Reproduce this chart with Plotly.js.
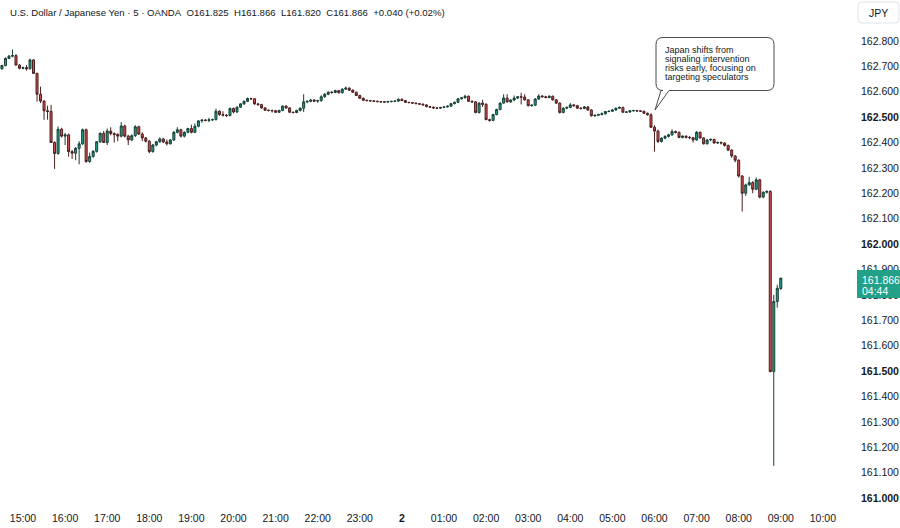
<!DOCTYPE html>
<html>
<head>
<meta charset="utf-8">
<script src="https://cdn.plot.ly/plotly-3.0.1.min.js"></script>
<style>html,body{margin:0;padding:0;background:#fff;}#chart{width:900px;height:528px;}</style>
</head>
<body>
<div id="chart"></div>
<script>
// ---- data (USD/JPY, 5-minute candles, OANDA) ----
const startTime = '2024-07-01T14:30:00Z';
const stepMinutes = 5;

const opens = [162.690,162.703,162.731,162.740,162.742,162.705,162.692,162.695,162.690,162.725,
162.672,162.590,162.563,162.525,162.522,162.400,162.357,162.452,162.425,162.430,
162.364,162.358,162.377,162.395,162.450,162.325,162.345,162.365,162.403,162.436,
162.400,162.445,162.435,162.432,162.425,162.465,162.425,162.410,162.427,162.462,
162.433,162.418,162.405,162.364,162.390,162.403,162.414,162.402,162.395,162.410,
162.440,162.450,162.425,162.440,162.455,162.440,162.464,162.485,162.488,162.487,
162.489,162.490,162.523,162.510,162.507,162.506,162.534,162.520,162.539,162.552,
162.562,162.573,162.572,162.552,162.549,162.536,162.527,162.526,162.525,162.519,
162.526,162.543,162.536,162.519,162.518,162.526,162.535,162.560,162.562,162.567,
162.563,162.565,162.580,162.590,162.598,162.597,162.604,162.596,162.610,162.614,
162.606,162.598,162.585,162.574,162.566,162.565,162.564,162.562,162.561,162.560,
162.559,162.561,162.562,162.563,162.570,162.565,162.558,162.557,162.555,162.553,
162.551,162.548,162.541,162.539,162.536,162.535,162.538,162.540,162.543,162.553,
162.558,162.572,162.576,162.582,162.562,162.560,162.518,162.555,162.550,162.490,
162.487,162.510,162.530,162.555,162.575,162.560,162.567,162.575,162.580,162.579,
162.568,162.545,162.547,162.571,162.583,162.580,162.577,162.582,162.568,162.555,
162.518,162.535,162.538,162.548,162.545,162.535,162.534,162.540,162.528,162.505,
162.507,162.510,162.513,162.522,162.523,162.528,162.535,162.538,162.519,162.520,
162.525,162.526,162.524,162.523,162.515,162.509,162.460,162.445,162.404,162.417,
162.424,162.430,162.443,162.440,162.420,162.425,162.420,162.419,162.410,162.440,
162.418,162.395,162.410,162.412,162.398,162.400,162.398,162.388,162.370,162.347,
162.330,162.268,162.200,162.233,162.242,162.216,162.253,162.185,162.204,162.207,
161.498,161.774,161.825];

const highs = [162.706,162.735,162.745,162.766,162.748,162.708,162.699,162.705,162.730,162.728,
162.675,162.620,162.566,162.545,162.548,162.405,162.463,162.458,162.438,162.435,
162.370,162.382,162.405,162.455,162.455,162.360,162.370,162.405,162.440,162.445,
162.455,162.460,162.440,162.436,162.480,162.470,162.430,162.432,162.468,162.466,
162.440,162.422,162.410,162.394,162.406,162.420,162.418,162.412,162.413,162.445,
162.460,162.454,162.444,162.458,162.470,162.475,162.488,162.492,162.492,162.497,
162.494,162.533,162.527,162.523,162.512,162.538,162.538,162.542,162.555,162.565,
162.577,162.577,162.575,162.556,162.552,162.539,162.530,162.530,162.528,162.529,
162.546,162.547,162.539,162.522,162.529,162.538,162.590,162.566,162.572,162.571,
162.568,162.586,162.594,162.601,162.602,162.608,162.607,162.613,162.620,162.617,
162.609,162.600,162.588,162.577,162.569,162.567,162.566,162.565,162.563,162.563,
162.564,162.564,162.566,162.573,162.573,162.567,162.560,162.559,162.557,162.555,
162.553,162.550,162.543,162.541,162.538,162.540,162.542,162.545,162.556,162.561,
162.575,162.579,162.588,162.585,162.566,162.563,162.558,162.568,162.555,162.494,
162.513,162.533,162.558,162.590,162.590,162.570,162.585,162.583,162.596,162.590,
162.571,162.550,162.574,162.590,162.587,162.584,162.586,162.585,162.571,162.558,
162.538,162.542,162.555,162.552,162.548,162.538,162.543,162.543,162.531,162.510,
162.513,162.518,162.524,162.526,162.531,162.537,162.542,162.541,162.522,162.528,
162.528,162.528,162.527,162.525,162.518,162.515,162.468,162.450,162.420,162.428,
162.434,162.452,162.447,162.443,162.428,162.428,162.426,162.422,162.445,162.443,
162.421,162.413,162.416,162.415,162.404,162.404,162.401,162.392,162.373,162.350,
162.334,162.272,162.238,162.265,162.248,162.262,162.257,162.208,162.212,162.212,
161.800,161.840,161.866];

const lows = [162.686,162.700,162.728,162.735,162.703,162.688,162.688,162.683,162.688,162.670,
162.561,162.555,162.489,162.490,162.398,162.296,162.352,162.420,162.390,162.344,
162.335,162.330,162.314,162.390,162.320,162.320,162.340,162.360,162.398,162.398,
162.390,162.428,162.400,162.405,162.420,162.420,162.390,162.405,162.422,162.430,
162.405,162.400,162.358,162.360,162.385,162.398,162.398,162.388,162.392,162.406,
162.436,162.420,162.420,162.436,162.436,162.437,162.460,162.478,162.483,162.480,
162.485,162.487,162.505,162.503,162.500,162.503,162.515,162.517,162.536,162.548,
162.559,162.568,162.549,162.545,162.533,162.524,162.522,162.518,162.516,162.516,
162.523,162.533,162.516,162.514,162.515,162.522,162.520,162.555,162.558,162.559,
162.556,162.560,162.576,162.586,162.592,162.594,162.593,162.593,162.607,162.603,
162.596,162.583,162.571,162.563,162.562,162.561,162.560,162.558,162.557,162.557,
162.557,162.558,162.559,162.560,162.563,162.556,162.555,162.553,162.551,162.549,
162.546,162.539,162.537,162.534,162.533,162.533,162.536,162.538,162.540,162.550,
162.555,162.569,162.573,162.560,162.556,162.515,162.514,162.540,162.488,162.482,
162.484,162.507,162.527,162.552,162.557,162.556,162.563,162.571,162.550,162.565,
162.542,162.541,162.544,162.568,162.577,162.574,162.574,162.565,162.552,162.514,
162.515,162.531,162.535,162.541,162.532,162.530,162.531,162.525,162.502,162.501,
162.504,162.507,162.510,162.519,162.520,162.525,162.532,162.517,162.516,162.517,
162.521,162.521,162.520,162.513,162.506,162.457,162.364,162.398,162.400,162.413,
162.420,162.427,162.436,162.417,162.416,162.416,162.413,162.400,162.407,162.415,
162.392,162.392,162.405,162.395,162.394,162.392,162.384,162.366,162.340,162.322,
162.262,162.128,162.190,162.230,162.200,162.212,162.180,162.180,162.199,161.495,
161.127,161.750,161.820];

const closes = [162.703,162.731,162.740,162.742,162.705,162.692,162.695,162.690,162.725,162.672,
162.590,162.563,162.525,162.522,162.400,162.357,162.452,162.425,162.430,162.364,
162.358,162.377,162.395,162.450,162.325,162.345,162.365,162.403,162.436,162.400,
162.445,162.435,162.432,162.425,162.465,162.425,162.410,162.427,162.462,162.433,
162.418,162.405,162.364,162.390,162.403,162.414,162.402,162.395,162.410,162.440,
162.450,162.425,162.440,162.455,162.440,162.464,162.485,162.488,162.487,162.489,
162.490,162.523,162.510,162.507,162.506,162.534,162.520,162.539,162.552,162.562,
162.573,162.572,162.552,162.549,162.536,162.527,162.526,162.525,162.519,162.526,
162.543,162.536,162.519,162.518,162.526,162.535,162.560,162.562,162.567,162.563,
162.565,162.580,162.590,162.598,162.597,162.604,162.596,162.610,162.614,162.606,
162.598,162.585,162.574,162.566,162.565,162.564,162.562,162.561,162.560,162.559,
162.561,162.562,162.563,162.570,162.565,162.558,162.557,162.555,162.553,162.551,
162.548,162.541,162.539,162.536,162.535,162.538,162.540,162.543,162.553,162.558,
162.572,162.576,162.582,162.562,162.560,162.518,162.555,162.550,162.490,162.487,
162.510,162.530,162.555,162.575,162.560,162.567,162.575,162.580,162.579,162.568,
162.545,162.547,162.571,162.583,162.580,162.577,162.582,162.568,162.555,162.518,
162.535,162.538,162.548,162.545,162.535,162.534,162.540,162.528,162.505,162.507,
162.510,162.513,162.522,162.523,162.528,162.535,162.538,162.519,162.520,162.525,
162.526,162.524,162.523,162.515,162.509,162.460,162.445,162.404,162.417,162.424,
162.430,162.443,162.440,162.420,162.425,162.420,162.419,162.410,162.440,162.418,
162.395,162.410,162.412,162.398,162.400,162.398,162.388,162.370,162.347,162.330,
162.268,162.200,162.233,162.242,162.216,162.253,162.185,162.204,162.207,161.498,
161.774,161.826,161.866];

const xTickTimes = ['2024-07-01 15:00','2024-07-01 16:00','2024-07-01 17:00','2024-07-01 18:00','2024-07-01 19:00',
'2024-07-01 20:00','2024-07-01 21:00','2024-07-01 22:00','2024-07-01 23:00','2024-07-02 00:00',
'2024-07-02 01:00','2024-07-02 02:00','2024-07-02 03:00','2024-07-02 04:00','2024-07-02 05:00',
'2024-07-02 06:00','2024-07-02 07:00','2024-07-02 08:00','2024-07-02 09:00','2024-07-02 10:00'];
const xTickLabels = ['15:00','16:00','17:00','18:00','19:00','20:00','21:00','22:00','23:00','<b>2</b>',
'01:00','02:00','03:00','04:00','05:00','06:00','07:00','08:00','09:00','10:00'];

const yTickValues = [161.0,161.1,161.2,161.3,161.4,161.5,161.6,161.7,161.8,161.9,162.0,162.1,162.2,162.3,162.4,162.5,162.6,162.7,162.8];
const yTickLabels = ['<b>161.000</b>','161.100','161.200','161.300','161.400','<b>161.500</b>','161.600','161.700','161.800','161.900',
'<b>162.000</b>','162.100','162.200','162.300','162.400','<b>162.500</b>','162.600','162.700','162.800'];

const headerText = 'U.S. Dollar / Japanese Yen · 5 · OANDA&nbsp;&nbsp;O161.825&nbsp;&nbsp;H161.866&nbsp;&nbsp;L161.820&nbsp;&nbsp;C161.866&nbsp;&nbsp;+0.040 (+0.02%)';
const calloutLines = ['Japan shifts from','signaling intervention','risks early, focusing on','targeting speculators'];
const lastPrice = 161.866;
const countdown = '04:44';
const currency = 'JPY';

// ---- build times (regular 5-minute grid) ----
const t0 = Date.parse(startTime);
const times = closes.map((_, i) => new Date(t0 + i * stepMinutes * 60000).toISOString().slice(0, 19).replace('T', ' '));

// ---- layout geometry ----
const W = 900, H = 528;
const M = {l: 0, r: 45, t: 0, b: 18};
const PW = W - M.l - M.r, PH = H - M.t - M.b;
const px = x => (x - M.l) / PW;
const py = y => 1 - (y - M.t) / PH;

const FONT = 'Liberation Sans, Arial, sans-serif';
const TXT = '#131722';

function bubble(x0, y0, x1, y1, r, tl, tr, tipX, tipY) {
  const rx = r / PW, ry = r / PH;
  const X0 = px(x0), X1 = px(x1), Yt = py(y0), Yb = py(y1);
  return `M ${X0+rx},${Yt} L ${X1-rx},${Yt} Q ${X1},${Yt} ${X1},${Yt-ry} L ${X1},${Yb+ry} Q ${X1},${Yb} ${X1-rx},${Yb} ` +
         `L ${px(tr)},${Yb} L ${px(tipX)},${py(tipY)} L ${px(tl)},${Yb} L ${X0+rx},${Yb} Q ${X0},${Yb} ${X0},${Yb+ry} ` +
         `L ${X0},${Yt-ry} Q ${X0},${Yt} ${X0+rx},${Yt} Z`;
}
function rrect(x0, y0, x1, y1, r) {
  const rx = r / PW, ry = r / PH;
  const X0 = px(x0), X1 = px(x1), Yt = py(y0), Yb = py(y1);
  return `M ${X0+rx},${Yt} L ${X1-rx},${Yt} Q ${X1},${Yt} ${X1},${Yt-ry} L ${X1},${Yb+ry} Q ${X1},${Yb} ${X1-rx},${Yb} ` +
         `L ${X0+rx},${Yb} Q ${X0},${Yb} ${X0},${Yb+ry} L ${X0},${Yt-ry} Q ${X0},${Yt} ${X0+rx},${Yt} Z`;
}

const trace = {
  type: 'candlestick',
  x: times, open: opens, high: highs, low: lows, close: closes,
  increasing: {line: {color: '#173f36', width: 1}, fillcolor: '#22a088'},
  decreasing: {line: {color: '#4a1f1f', width: 1}, fillcolor: '#d65050'},
  whiskerwidth: 0,
  hoverinfo: 'skip'
};

const annotations = [
  {xref: 'paper', yref: 'paper', x: px(8), y: py(12), xanchor: 'left', yanchor: 'middle', showarrow: false,
   text: headerText, font: {family: FONT, size: 9.6, color: TXT}},
  {xref: 'paper', yref: 'paper', x: px(878), y: py(12.5), xanchor: 'center', yanchor: 'middle', showarrow: false,
   text: currency, font: {family: FONT, size: 10.5, color: TXT}},
  {xref: 'paper', yref: 'y', x: px(860), y: lastPrice, xanchor: 'left', yanchor: 'middle', yshift: -2, showarrow: false,
   text: lastPrice.toFixed(3), font: {family: FONT, size: 10.5, color: '#ffffff'}},
  {xref: 'paper', yref: 'y', x: px(860), y: lastPrice, xanchor: 'left', yanchor: 'middle', yshift: -13, showarrow: false,
   text: countdown, font: {family: FONT, size: 10.5, color: '#ffffff'}}
];
const lineYs = [50, 59, 68, 77];
calloutLines.forEach((t, k) => annotations.push({
  xref: 'paper', yref: 'paper', x: px(663), y: py(lineYs[k]), xanchor: 'left', yanchor: 'middle', showarrow: false,
  text: t, font: {family: FONT, size: 9, color: TXT}
}));

const shapes = [
  {type: 'path', xref: 'paper', yref: 'paper', path: bubble(656, 37.5, 774, 90.5, 7, 661, 669, 655, 110),
   line: {color: '#4a4a4a', width: 1}, fillcolor: '#ffffff', layer: 'above'},
  {type: 'path', xref: 'paper', yref: 'paper', path: rrect(858, 2, 899, 23, 4),
   line: {color: '#e0e3eb', width: 1}, fillcolor: '#ffffff', layer: 'above'},
  {type: 'rect', xref: 'paper', yref: 'paper', x0: px(857), x1: px(900), y0: py(270), y1: py(298),
   line: {width: 0}, fillcolor: '#22a088', layer: 'above'}
];

const layout = {
  width: W, height: H,
  margin: M,
  paper_bgcolor: '#ffffff', plot_bgcolor: '#ffffff',
  showlegend: false,
  boxgap: 0.18,
  xaxis: {
    type: 'date',
    range: ['2024-07-01 14:27:13', '2024-07-02 10:45:46'],
    rangeslider: {visible: false},
    tickmode: 'array', tickvals: xTickTimes, ticktext: xTickLabels,
    showgrid: false, zeroline: false, showline: false, ticks: '',
    tickfont: {family: FONT, size: 10.5, color: TXT}
  },
  yaxis: {
    side: 'right',
    range: [160.953, 162.961],
    tickmode: 'array', tickvals: yTickValues, ticktext: yTickLabels,
    showgrid: false, zeroline: false, showline: false, ticks: '',
    ticklabelstandoff: 5,
    tickfont: {family: FONT, size: 10.5, color: TXT}
  },
  shapes: shapes,
  annotations: annotations
};

Plotly.newPlot('chart', [trace], layout, {staticPlot: true, displayModeBar: false});
</script>
</body>
</html>
